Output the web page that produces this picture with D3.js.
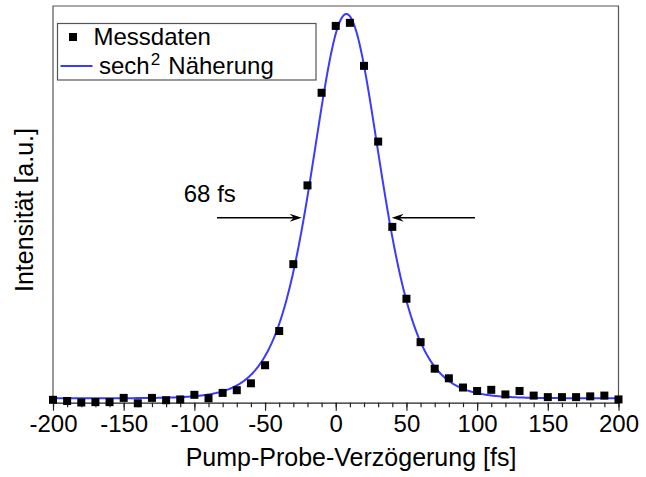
<!DOCTYPE html>
<html>
<head>
<meta charset="utf-8">
<script src="https://cdn.jsdelivr.net/npm/d3@7"></script>
<style>
  html, body { margin: 0; padding: 0; background: #fff; }
  svg { display: block; }
  text { font-family: "Liberation Sans", Arial, Helvetica, sans-serif; fill: #000; }
</style>
</head>
<body>
<svg id="chart" width="646" height="477"></svg>
<script>
// Measured delays (fs) and normalised autocorrelation intensity
const delays = [-200, -190, -180, -170, -160, -150, -140, -130, -120, -110,
                -100, -90, -80, -70, -60, -50, -40, -30, -20, -10,
                0, 10, 20, 30, 40, 50, 60, 70, 80, 90,
                100, 110, 120, 130, 140, 150, 160, 170, 180, 190, 200];
const intensity = [-0.004, -0.007, -0.011, -0.010, -0.010, 0.001, -0.013, 0.001, -0.005, -0.003,
                   0.009, 0.000, 0.014, 0.021, 0.039, 0.086, 0.175, 0.349, 0.554, 0.795,
                   0.969, 0.977, 0.865, 0.668, 0.446, 0.259, 0.146, 0.077, 0.052, 0.028,
                   0.019, 0.022, 0.010, 0.019, 0.007, 0.003, 0.003, 0.003, 0.005, 0.007, -0.003];

// sech^2 fit parameters
const fitCenter = 7.5;     // fs
const fitTau = 32.5;       // fs
const fitAmplitude = 1.0;
const fitOffset = 0.0;

// Axis ticks
const majorTicks = [-200, -150, -100, -50, 0, 50, 100, 150, 200];
const minorTicks = d3.range(-200, 201, 10);

// Width annotation (arrows pointing at the half-maximum crossings)
const widthLabel = "68 fs";
const arrowLevel = 0.47;
const arrowLeft = [-84, -24.1];   // tail, tip (fs)
const arrowRight = [98.5, 39.6];  // tail, tip (fs)
const labelPos = [-107.5, 0.512];

const svg = d3.select("#chart");
const plot = { left: 53, right: 618.5, top: 6, bottom: 402.7 };

const x = d3.scaleLinear().domain([-200, 200]).range([plot.left, plot.right]);
const y = d3.scaleLinear().domain([-0.0115, 1.0208]).range([plot.bottom, plot.top]);

// Frame: left, top, right in grey
svg.append("path")
  .attr("d", `M${plot.left},${plot.bottom}V${plot.top}H${plot.right}V${plot.bottom}`)
  .attr("fill", "none").attr("stroke", "#555").attr("stroke-width", 1.2);

// Bottom axis with major and minor ticks
const gx = svg.append("g").attr("transform", `translate(0,${plot.bottom})`);
gx.append("g")
  .call(d3.axisBottom(x).tickValues(minorTicks).tickSize(4.5).tickFormat(""))
  .call(g => g.select(".domain").remove())
  .selectAll("line").attr("stroke", "#222").attr("stroke-width", 1.2);
gx.append("g")
  .call(d3.axisBottom(x).tickValues(majorTicks).tickSize(8).tickSizeOuter(0).tickPadding(4)
          .tickFormat(d => String(d)))
  .call(g => g.select(".domain").attr("stroke", "#222").attr("stroke-width", 1.3))
  .call(g => g.selectAll("line").attr("stroke", "#222").attr("stroke-width", 1.2))
  .call(g => g.selectAll("text")
     .attr("font-size", 24).attr("fill", "#000")
     .attr("font-family", '"Liberation Sans", Arial, sans-serif'));

// Axis titles
svg.append("text")
  .attr("x", 351).attr("y", 466)
  .attr("text-anchor", "middle").attr("font-size", 25)
  .text("Pump-Probe-Verzögerung [fs]");
svg.append("text")
  .attr("transform", `translate(33,${210}) rotate(-90)`)
  .attr("text-anchor", "middle").attr("font-size", 25)
  .text("Intensität [a.u.]");

// Fit curve
const fitT = d3.range(-200, 200.01, 0.5);
const sech2 = t => { const c = Math.cosh((t - fitCenter) / fitTau); return fitOffset + fitAmplitude / (c * c); };
svg.append("path")
  .datum(fitT)
  .attr("d", d3.line().x(t => x(t)).y(t => y(sech2(t))))
  .attr("fill", "none").attr("stroke", "#3b3bff").attr("stroke-width", 2);

// Measured points
const sq = 8;
svg.append("g").selectAll("rect")
  .data(delays.map((d, i) => [d, intensity[i]]))
  .join("rect")
  .attr("x", d => x(d[0]) - sq / 2).attr("y", d => y(d[1]) - sq / 2)
  .attr("width", sq).attr("height", sq).attr("fill", "#000");

// Width arrows
function arrow(tail, tip) {
  const x0 = x(tail), x1 = x(tip), yy = y(arrowLevel);
  const dir = Math.sign(x1 - x0);
  svg.append("line")
    .attr("x1", x0).attr("y1", yy).attr("x2", x1 - dir * 4).attr("y2", yy)
    .attr("stroke", "#000").attr("stroke-width", 1.5);
  const L = 12, W = 4, notch = 8;
  svg.append("path")
    .attr("d", `M${x1},${yy}L${x1 - dir * L},${yy - W}L${x1 - dir * notch},${yy}L${x1 - dir * L},${yy + W}Z`)
    .attr("fill", "#000");
}
arrow(arrowLeft[0], arrowLeft[1]);
arrow(arrowRight[0], arrowRight[1]);
svg.append("text")
  .attr("x", x(labelPos[0])).attr("y", y(labelPos[1]))
  .attr("font-size", 24).text(widthLabel);

// Legend
const lg = svg.append("g");
lg.append("rect")
  .attr("x", 57.5).attr("y", 23.5).attr("width", 258.5).attr("height", 56.5)
  .attr("fill", "#fff").attr("stroke", "#555").attr("stroke-width", 1.2);
lg.append("rect").attr("x", 73 - sq / 2).attr("y", 37 - sq / 2).attr("width", sq).attr("height", sq).attr("fill", "#000");
lg.append("text").attr("x", 93.5).attr("y", 44.5).attr("font-size", 24).text("Messdaten");
lg.append("line").attr("x1", 60.5).attr("x2", 92.5).attr("y1", 66).attr("y2", 66)
  .attr("stroke", "#3b3bff").attr("stroke-width", 2);
const t2 = lg.append("text").attr("x", 99).attr("y", 74).attr("font-size", 24);
t2.append("tspan").text("sech");
t2.append("tspan").attr("dx", 1).attr("dy", -9).attr("font-size", 17).text("2");
t2.append("tspan").attr("dx", 1.5).attr("dy", 9).text(" Näherung");
</script>
</body>
</html>
